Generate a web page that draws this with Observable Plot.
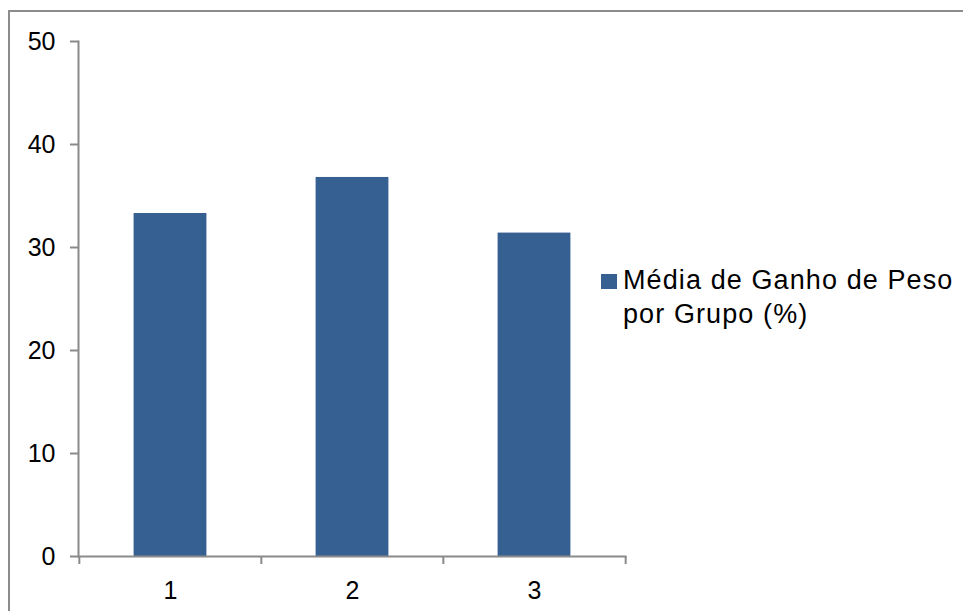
<!DOCTYPE html>
<html>
<head>
<meta charset="utf-8">
<script src="https://cdn.jsdelivr.net/npm/d3@7"></script>
<script src="https://cdn.jsdelivr.net/npm/@observablehq/plot@0.6"></script>
<style>
  html, body { margin: 0; padding: 0; background: #fff; overflow: hidden; }
  #wrap { position: relative; width: 963px; height: 611px; overflow: hidden; background: #fff; }
  #area { position: absolute; left: 8px; top: 10px; width: 1000px; height: 700px;
          border-top: 2px solid #8c8c8c; border-left: 2px solid #8c8c8c; box-sizing: border-box; }
  #chart { position: absolute; left: 0; top: 0; }
  #legend { position: absolute; left: 601px; top: 263px; font-family: "Liberation Sans", Arial, sans-serif;
            font-size: 27px; line-height: 34px; letter-spacing: 1.1px; color: #000; }
  #legend .sw { position: absolute; left: 0; top: 11px; width: 16px; height: 15px; }
  #legend .txt { margin-left: 22px; white-space: nowrap; }
</style>
</head>
<body>
<div id="wrap">
  <div id="area"></div>
  <div id="chart"></div>
  <div id="legend"><span class="sw"></span><div class="txt"></div></div>
</div>
<script>
// Weight gain by group (%)
const grupos = ["1", "2", "3"];
const ganho = [33.3, 36.8, 31.4];
const yTicks = [0, 10, 20, 30, 40, 50];
const serieNome = ["Média de Ganho de Peso", "por Grupo (%)"];
const corBarra = "#376092";
const corEixo = "#8a8a8a";

const data = grupos.map((g, i) => ({grupo: g, valor: ganho[i]}));

const W = 963, H = 611;
const mLeft = 78, mRight = 338, mTop = 41, mBottom = 55;
const halfBand = (W - mLeft - mRight) / grupos.length / 2;
const font = "'Liberation Sans', Arial, sans-serif";

const chart = Plot.plot({
  width: W,
  height: H,
  marginLeft: mLeft,
  marginRight: mRight,
  marginTop: mTop,
  marginBottom: mBottom,
  style: {fontFamily: font, fontSize: "25px", background: "transparent", color: "#000", overflow: "visible"},
  x: {domain: grupos, padding: 0},
  y: {domain: [0, 50]},
  marks: [
    Plot.barY(data, {x: "grupo", y: "valor", fill: corBarra, insetLeft: 54.6, insetRight: 54.6}),
    Plot.frame({anchor: "left", stroke: corEixo, strokeWidth: 2}),
    Plot.frame({anchor: "bottom", stroke: corEixo, strokeWidth: 2}),
    Plot.axisY({ticks: yTicks, tickSize: 8, tickPadding: 15, stroke: corEixo, strokeWidth: 2,
                fill: "#000", fontSize: 25, tickFormat: d3.format("d"), label: null}),
    // category separators on the horizontal axis
    Plot.axisX({tickSize: 8, dx: -halfBand, stroke: corEixo, strokeWidth: 2, tickFormat: () => "", label: null}),
    Plot.axisX({ticks: [grupos[grupos.length - 1]], tickSize: 8, dx: halfBand, stroke: corEixo, strokeWidth: 2,
                tickFormat: () => "", label: null}),
    Plot.axisX({tickSize: 0, tickPadding: 25, fill: "#000", fontSize: 25, label: null})
  ]
});
document.getElementById("chart").appendChild(chart);

const leg = document.getElementById("legend");
leg.querySelector(".sw").style.background = corBarra;
leg.querySelector(".txt").innerHTML = serieNome.join("<br>");
</script>
</body>
</html>
